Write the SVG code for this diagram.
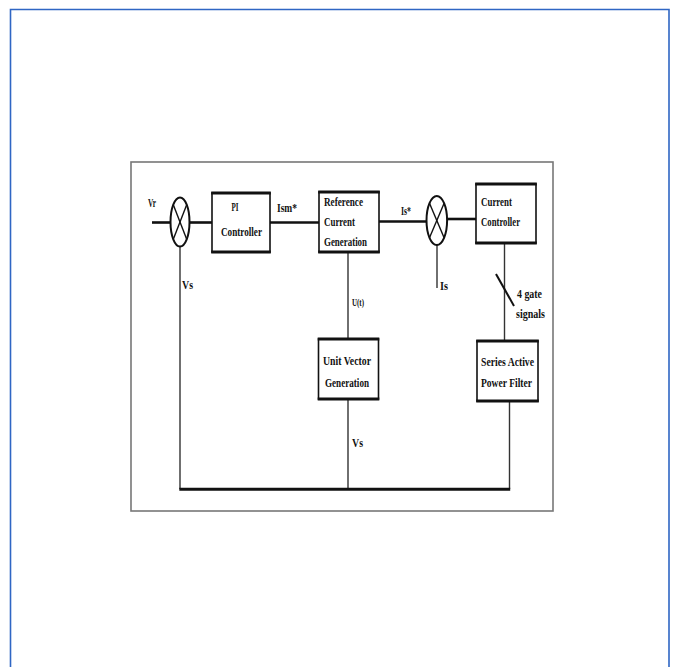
<svg xmlns="http://www.w3.org/2000/svg" width="676" height="667" viewBox="0 0 676 667">
<style>
  .t{font-family:"Liberation Serif","Times New Roman",serif;font-weight:bold;font-size:13px;fill:#111}
  .box{fill:#fff;stroke:#111;stroke-width:1.6}
  .edge{stroke:#111;stroke-width:3;fill:none}
  .h{stroke:#111;stroke-width:2.6;fill:none}
  .v{stroke:#333;stroke-width:1.4;fill:none}
  .sum{fill:#fff;stroke:#111;stroke-width:2}
  .x{stroke:#111;stroke-width:1.4}
</style>
<rect width="676" height="667" fill="#fff"/>
<path d="M10.5,667 V9.5 H669 V667" fill="none" stroke="#2f66c4" stroke-width="1.6"/>
<rect x="131" y="162" width="422" height="349" fill="#fff" stroke="#777" stroke-width="1.6"/>

<g id="connectors">
  <line class="h" x1="152" y1="222.5" x2="171" y2="222.5"/>
  <line class="h" x1="189.5" y1="222.5" x2="212" y2="222.5"/>
  <line class="h" x1="270" y1="222.5" x2="319" y2="222.5"/>
  <line class="h" x1="379" y1="221.5" x2="426" y2="221.5"/>
  <line class="h" x1="447" y1="219" x2="476" y2="219"/>
  <line class="v" x1="180" y1="246" x2="180" y2="489"/>
  <line class="v" x1="437" y1="245" x2="437" y2="288"/>
  <line class="v" x1="348" y1="252" x2="348" y2="339"/>
  <line class="v" x1="348" y1="399" x2="348" y2="489"/>
  <line class="v" x1="504.5" y1="243" x2="504.5" y2="341"/>
  <line class="v" x1="509.5" y1="401" x2="509.5" y2="489"/>
  <line x1="179.3" y1="489.3" x2="510.2" y2="489.3" stroke="#111" stroke-width="3"/>
  <line x1="496" y1="274" x2="514" y2="306" stroke="#111" stroke-width="2"/>
</g>

<g id="sum1">
  <ellipse class="sum" cx="180" cy="222" rx="9.5" ry="24.5"/>
  <line class="x" x1="173.3" y1="204.7" x2="186.7" y2="239.3"/>
  <line class="x" x1="186.7" y1="204.7" x2="173.3" y2="239.3"/>
</g>
<g id="sum2">
  <ellipse class="sum" cx="436.8" cy="220.5" rx="10.3" ry="24.5"/>
  <line class="x" x1="429.5" y1="203.2" x2="444.1" y2="237.8"/>
  <line class="x" x1="444.1" y1="203.2" x2="429.5" y2="237.8"/>
</g>

<g id="pi">
  <rect class="box" x="212" y="193" width="58" height="59"/>
  <line class="edge" x1="211.2" y1="193" x2="270.8" y2="193"/>
  <line class="edge" x1="211.2" y1="252" x2="270.8" y2="252"/>
  <text class="t" x="231.5" y="211" textLength="7" lengthAdjust="spacingAndGlyphs">PI</text>
  <text class="t" x="221" y="236" textLength="41" lengthAdjust="spacingAndGlyphs">Controller</text>
</g>

<g id="refgen">
  <rect class="box" x="319" y="192" width="60" height="60"/>
  <line class="edge" x1="318.2" y1="192" x2="379.8" y2="192"/>
  <line class="edge" x1="318.2" y1="252" x2="379.8" y2="252"/>
  <text class="t" x="324" y="206" textLength="39" lengthAdjust="spacingAndGlyphs">Reference</text>
  <text class="t" x="324" y="226" textLength="31" lengthAdjust="spacingAndGlyphs">Current</text>
  <text class="t" x="324" y="246" textLength="43" lengthAdjust="spacingAndGlyphs">Generation</text>
</g>

<g id="curctrl">
  <rect class="box" x="476" y="184" width="60" height="59"/>
  <line class="edge" x1="475.2" y1="184" x2="536.8" y2="184"/>
  <line class="edge" x1="475.2" y1="243" x2="536.8" y2="243"/>
  <text class="t" x="481" y="206" textLength="31" lengthAdjust="spacingAndGlyphs">Current</text>
  <text class="t" x="481" y="226" textLength="39" lengthAdjust="spacingAndGlyphs">Controller</text>
</g>

<g id="uvg">
  <rect class="box" x="318.5" y="339" width="60" height="60"/>
  <line class="edge" x1="317.7" y1="339" x2="379.3" y2="339"/>
  <line class="edge" x1="317.7" y1="399" x2="379.3" y2="399"/>
  <text class="t" x="323" y="365" textLength="48" lengthAdjust="spacingAndGlyphs">Unit Vector</text>
  <text class="t" x="325" y="387" textLength="44" lengthAdjust="spacingAndGlyphs">Generation</text>
</g>

<g id="sapf">
  <rect class="box" x="477" y="341" width="61" height="60"/>
  <line class="edge" x1="476.2" y1="341" x2="538.8" y2="341"/>
  <line class="edge" x1="476.2" y1="401" x2="538.8" y2="401"/>
  <text class="t" x="481" y="366" textLength="53" lengthAdjust="spacingAndGlyphs">Series Active</text>
  <text class="t" x="481" y="387" textLength="51" lengthAdjust="spacingAndGlyphs">Power Filter</text>
</g>

<g id="labels">
  <text class="t" x="148" y="207" textLength="8" lengthAdjust="spacingAndGlyphs">Vr</text>
  <text class="t" x="277" y="212" textLength="20" lengthAdjust="spacingAndGlyphs">Ism*</text>
  <text class="t" x="401" y="215" textLength="10" lengthAdjust="spacingAndGlyphs">Is*</text>
  <text class="t" x="440" y="290" textLength="8" lengthAdjust="spacingAndGlyphs">Is</text>
  <text class="t" x="182" y="289" textLength="11" lengthAdjust="spacingAndGlyphs">Vs</text>
  <text class="t" x="352" y="306" style="font-size:11px" textLength="12" lengthAdjust="spacingAndGlyphs">U(t)</text>
  <text class="t" x="517" y="298" textLength="25" lengthAdjust="spacingAndGlyphs">4 gate</text>
  <text class="t" x="516" y="318" textLength="29" lengthAdjust="spacingAndGlyphs">signals</text>
  <text class="t" x="352" y="447" textLength="11" lengthAdjust="spacingAndGlyphs">Vs</text>
</g>
</svg>
